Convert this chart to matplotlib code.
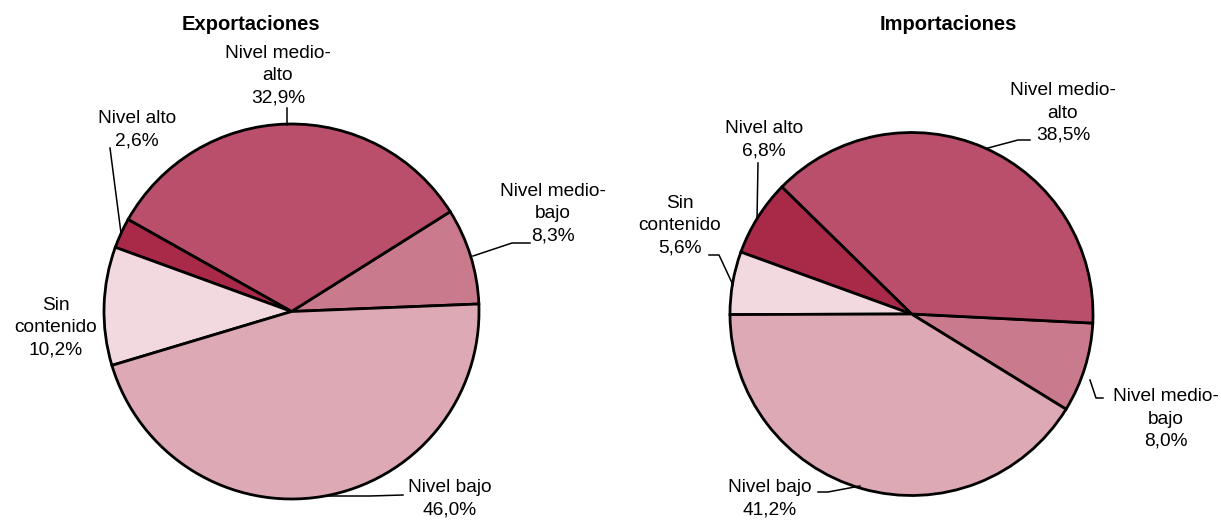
import matplotlib
matplotlib.use("Agg")
import matplotlib.pyplot as plt

plt.rcParams['font.family'] = ['Liberation Sans', 'DejaVu Sans']

# ---- data ----
categories = ["Nivel medio-bajo", "Nivel medio-alto", "Nivel alto", "Sin contenido", "Nivel bajo"]
label_texts = ["Nivel medio-\nbajo", "Nivel medio-\nalto", "Nivel alto", "Sin\ncontenido", "Nivel bajo"]
export_values = [8.3, 32.9, 2.6, 10.2, 46.0]
import_values = [8.0, 38.5, 6.8, 5.6, 41.2]
colors = ["#C97B8D", "#B94F6A", "#A82A48", "#F1D9DF", "#DDA9B5"]
titles = ["Exportaciones", "Importaciones"]

W, H = 1221, 522
fig = plt.figure(figsize=(W / 100, H / 100), dpi=100)
ax = fig.add_axes([0, 0, 1, 1])


def P(x, y):
    return (x, H - y)


def fmt(v):
    return f"{v:.1f}".replace(".", ",") + "%"


pies = [
    dict(values=export_values, center=(291.5, 311.5), r=187.5, start=2.3, title_xy=(251, 24),
         labels=[(553, 214), (278, 76), (137, 130), (56, 328), (450, 499)],
         leaders=[[(530, 243), (512, 243), (473, 256)],
                  [(287, 108), (287, 125)],
                  [(110, 148), (121, 233)],
                  None,
                  [(403, 495), (370, 496), (325, 496)]]),
    dict(values=import_values, center=(911.5, 314), r=181.5, start=-31.64, title_xy=(948, 24),
         labels=[(1166, 419), (1063, 113), (764, 140), (680, 226), (770, 499)],
         leaders=[[(1103, 398), (1096, 398), (1090, 380)],
                  [(1030, 140), (1018, 140), (988, 148)],
                  [(758, 163), (757, 219)],
                  [(709, 255), (719, 255), (733, 285)],
                  [(818, 492), (828, 492), (860, 486)]]),
]

for i, p in enumerate(pies):
    cx, cy = P(*p["center"])
    ax.pie(p["values"], center=(cx, cy), radius=p["r"], startangle=p["start"],
           counterclock=True, colors=colors,
           wedgeprops=dict(edgecolor="black", linewidth=2.0))
    ax.text(*P(*p["title_xy"]), titles[i], ha="center", va="center",
            fontsize=14.5, fontweight="bold", color="black")
    for j, v in enumerate(p["values"]):
        lx, ly = P(*p["labels"][j])
        ax.text(lx, ly, label_texts[j] + "\n" + fmt(v), ha="center", va="center",
                fontsize=13.8, linespacing=1.4, color="black")
        if p["leaders"][j] is not None:
            pts = [P(*q) for q in p["leaders"][j]]
            ax.plot([q[0] for q in pts], [q[1] for q in pts], color="black", lw=1.1)

ax.set_xlim(0, W)
ax.set_ylim(0, H)
ax.set_aspect("equal")
ax.axis("off")
fig.savefig("out.png", dpi=100, facecolor="white")
